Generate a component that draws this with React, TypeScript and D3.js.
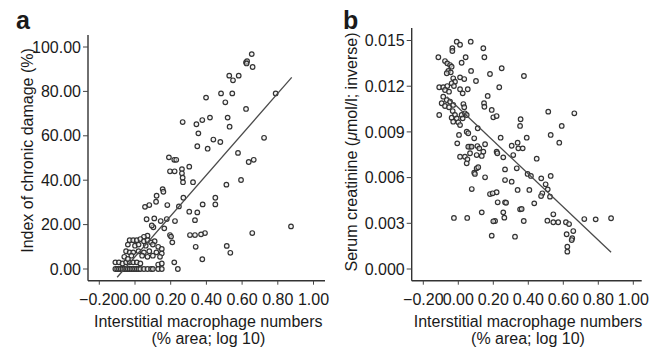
import React from "react";
import * as d3 from "d3";

// ---------- DATA ----------
const xTicks = [-0.2, 0.0, 0.2, 0.4, 0.6, 0.8, 1.0];
const damageTicks = [0, 20, 40, 60, 80, 100];
const creatinineTicks = [0.0, 0.003, 0.006, 0.009, 0.012, 0.015];

// Panel a: [macrophage log10 %area, index of chronic damage %]
const damagePoints: [number, number][] = [
  [0.654, 96.8], [0.622, 93.1], [0.628, 93.6], [0.625, 92.6], [0.659, 91], [0.528, 87.1], [0.549, 85],
  [0.581, 87.1], [0.482, 79.1], [0.545, 79.1], [0.398, 77.2], [0.506, 75.1], [0.622, 72.1],
  [0.788, 79.1], [0.267, 66.2], [0.344, 65.2], [0.377, 67.1], [0.42, 68.2], [0.519, 68.2],
  [0.53, 64.1], [0.355, 61.1], [0.439, 58.3], [0.478, 57.2], [0.349, 55.3], [0.407, 54.2],
  [0.723, 59.1], [0.577, 52.3], [0.19, 50.3], [0.22, 49.2], [0.231, 49.2], [0.196, 44],
  [0.222, 44], [0.263, 45], [0.263, 43.1], [0.267, 41.1], [0.269, 39.1], [0.304, 46.1],
  [0.325, 39.1], [0.637, 48.2], [0.665, 49.2], [0.512, 38], [0.594, 40.1], [0.155, 36],
  [0.159, 34.8], [0.121, 33], [0.271, 32.1], [0.45, 32.1], [0.45, 29.1], [0.379, 29.1],
  [0.392, 16.2], [0.657, 16.2], [0.874, 19.2], [0.514, 10.4], [0.534, 7.3], [0.377, 4.4],
  [0.056, 28], [0.08, 28.8], [0.118, 30.3], [0.181, 28.8], [0.304, 25.8], [0.349, 25.5],
  [0.336, 22], [0.065, 22.4], [0.108, 22.8], [0.144, 21.6], [0.178, 22.5], [0.224, 21.6],
  [0.103, 18.8], [0.094, 19.6], [0.164, 18.3], [0.196, 15.3], [0.202, 14.6], [0.209, 12],
  [0.308, 15.3], [0.336, 15.3], [0.37, 15.6], [0.34, 10], [0.246, 28.2], [0.07, 15], [0.05, 14.5],
  [-0.03, 13], [-0.01, 13], [0.01, 13], [0.03, 13.5], [0.05, 12.5], [0.07, 13], [0.09, 12], [0.11, 12.5],
  [-0.04, 11], [0.0, 10.5], [0.02, 11], [0.06, 10.5], [0.1, 11], [0.13, 10], [0.15, 9],
  [-0.05, 8], [-0.03, 7.5], [-0.01, 7.5], [0.02, 8], [0.05, 7.5], [0.08, 8], [0.12, 7.5], [0.15, 7],
  [-0.06, 5.5], [-0.02, 6], [0.04, 6], [0.07, 5.5], [0.1, 6], [0.14, 5.5],
  [-0.11, 3], [-0.09, 3], [-0.07, 2.5], [-0.05, 3], [-0.03, 3], [-0.01, 3], [0.01, 3], [0.03, 2.5],
  [0.13, 2], [0.15, 2.5], [0.22, 3], [-0.04, 4.5],
  [-0.11, 0], [-0.1, 0], [-0.09, 0], [-0.08, 0], [-0.07, 0], [-0.06, 0], [-0.05, 0], [-0.04, 0],
  [-0.03, 0], [-0.02, 0], [-0.01, 0], [0.0, 0], [0.01, 0], [0.02, 0], [0.03, 0], [0.05, 0],
  [0.07, 0], [0.09, 0], [0.1, 0], [0.13, 0], [0.15, 0], [0.24, 0],
];

// Panel b: [macrophage log10 %area, serum creatinine inverse]
const creatininePoints: [number, number][] = [
  [-0.114, 0.0139], [-0.109, 0.01011], [-0.009, 0.01492], [-0.034, 0.01449], [-0.034, 0.01431],
  [0.01, 0.01472], [0.071, 0.01492], [0.143, 0.01449], [0.149, 0.0139], [0.042, 0.0139],
  [0.019, 0.01354], [-0.076, 0.01365], [-0.063, 0.0135], [-0.047, 0.01339], [-0.038, 0.01328],
  [-0.057, 0.013], [-0.043, 0.01291], [-0.066, 0.01285], [0.073, 0.013], [0.181, 0.0128],
  [0.248, 0.01318], [0.375, 0.01267], [-0.029, 0.01252], [-0.019, 0.0123], [-0.038, 0.01219],
  [-0.025, 0.01201], [0.01, 0.01258], [0.034, 0.01247], [0.101, 0.01234], [-0.109, 0.01193],
  [-0.086, 0.01193], [-0.063, 0.01201], [-0.076, 0.01175], [-0.053, 0.01164], [0.01, 0.0118],
  [0.025, 0.01153], [0.054, 0.0118], [0.234, 0.01193], [0.168, 0.01136], [-0.086, 0.01131],
  [-0.066, 0.01109], [-0.047, 0.01098], [-0.095, 0.01088], [-0.076, 0.0107], [-0.053, 0.01062],
  [-0.029, 0.01077], [0.029, 0.01083], [0.034, 0.01062], [0.147, 0.01088], [0.149, 0.01065],
  [0.191, 0.01044], [0.2, 0.00996], [0.219, 0.01004], [-0.032, 0.01037], [-0.019, 0.01011],
  [-0.038, 0.00993], [-0.009, 0.00989], [0.019, 0.01011], [0.038, 0.01022], [0.048, 0.01011],
  [0.025, 0.00989], [-0.029, 0.00967], [0.0, 0.00963], [0.01, 0.00945], [0.356, 0.00983],
  [0.353, 0.00939], [0.514, 0.01033], [0.663, 0.01022], [0.591, 0.00939], [0.528, 0.0088],
  [0.577, 0.00829], [0.048, 0.00901], [0.057, 0.00891], [0.004, 0.0088], [0.091, 0.00858],
  [0.242, 0.00862], [-0.006, 0.00825], [0.067, 0.00803], [0.109, 0.00807], [0.153, 0.00819],
  [0.12, 0.00792], [0.143, 0.0077], [0.305, 0.00809], [0.343, 0.00792], [0.368, 0.00792],
  [0.391, 0.00862], [0.339, 0.00829], [0.219, 0.0077], [0.223, 0.0076], [0.01, 0.00737],
  [0.038, 0.00737], [0.067, 0.0076], [0.052, 0.0072], [0.105, 0.00748], [0.134, 0.00742],
  [0.257, 0.00733], [0.314, 0.00748], [0.448, 0.00724], [0.048, 0.00694], [0.105, 0.00661],
  [0.111, 0.00924], [0.057, 0.00803], [0.076, 0.00803], [0.114, 0.00668], [0.091, 0.00632],
  [0.267, 0.00654], [0.334, 0.00661], [0.396, 0.00624], [0.415, 0.00611], [0.474, 0.00595],
  [0.528, 0.00611], [0.267, 0.00584], [0.305, 0.00573], [0.499, 0.00556], [0.511, 0.00523],
  [0.524, 0.00475], [0.48, 0.00497], [0.473, 0.00479], [0.339, 0.00519], [0.406, 0.00519],
  [0.219, 0.00504], [0.225, 0.00438], [0.267, 0.00438], [0.273, 0.00435], [0.434, 0.00431],
  [0.353, 0.00392], [0.257, 0.00372], [0.263, 0.00337], [0.21, 0.00315], [0.374, 0.00315],
  [0.543, 0.00359], [0.509, 0.00317], [0.543, 0.00307], [0.571, 0.00307], [0.615, 0.00307],
  [0.633, 0.00295], [0.72, 0.00328], [0.785, 0.00326], [0.873, 0.00333], [0.657, 0.00249],
  [0.619, 0.00228], [0.651, 0.00202], [0.648, 0.0019], [0.623, 0.00146], [0.623, 0.00114],
  [0.324, 0.00212], [-0.025, 0.00335], [0.051, 0.00335], [0.134, 0.00372], [0.077, 0.00525],
  [0.153, 0.00602], [0.095, 0.00624], [0.181, 0.00492], [0.196, 0.00497], [0.2, 0.00313],
  [0.191, 0.00219], [0.362, 0.00394],
];

// Fit lines: [x0, y0, x1, y1]
const damageFit = [-0.1, -3.7, 0.878, 86.3];
const creatinineFit = [-0.066, 0.01131, 0.873, 0.0011];

// ---------- DRAWING ----------
const FONT = "Arial, 'Liberation Sans', Helvetica, sans-serif";
const TXT = "#1a1a1a";

type PanelProps = {
  letter: string;
  letterPos: [number, number];
  left: number; right: number; top: number; bottom: number;
  xDomain: [number, number];
  yDomain: [number, number];
  yTicks: number[];
  yFmt: (v: number) => string;
  points: [number, number][];
  fit: number[];
  yLabel: React.ReactNode;
  yLabelX: number;
  yLabelY: number;
  titleX: number;
};

function Panel(p: PanelProps) {
  const x = d3.scaleLinear().domain(p.xDomain).range([p.left, p.right]);
  const y = d3.scaleLinear().domain(p.yDomain).range([p.bottom, p.top]);
  const line = d3.line<[number, number]>().x(d => x(d[0])).y(d => y(d[1]));
  const fitPts: [number, number][] = [[p.fit[0], p.fit[1]], [p.fit[2], p.fit[3]]];
  const xFmt = (v: number) => (v < 0 ? "\u2212" : "") + d3.format(".2f")(Math.abs(v));
  return (
    <g fontFamily={FONT} fill={TXT}>
      <text x={p.letterPos[0]} y={p.letterPos[1]} fontSize={25} fontWeight="bold">{p.letter}</text>
      {/* axes */}
      <line x1={p.left} x2={p.left} y1={p.top} y2={p.bottom} stroke="#333" strokeWidth={1.4} />
      <line x1={p.left} x2={p.right} y1={p.bottom} y2={p.bottom} stroke="#333" strokeWidth={1.4} />
      {p.yTicks.map(t => (
        <g key={"y" + t}>
          <line x1={p.left - 5} x2={p.left} y1={y(t)} y2={y(t)} stroke="#444" strokeWidth={1} />
          <text x={p.left - 7} y={y(t)} dy="0.35em" textAnchor="end" fontSize={16}>{p.yFmt(t)}</text>
        </g>
      ))}
      {xTicks.map(t => (
        <g key={"x" + t}>
          <line x1={x(t)} x2={x(t)} y1={p.bottom} y2={p.bottom + 4} stroke="#444" strokeWidth={1} />
          <text x={x(t)} y={305} textAnchor="middle" fontSize={16}>{xFmt(t)}</text>
        </g>
      ))}
      <text x={p.titleX} y={326.5} textAnchor="middle" fontSize={16}>Interstitial macrophage numbers</text>
      <text x={p.titleX} y={344} textAnchor="middle" fontSize={16}>(% area; log 10)</text>
      <text transform={`translate(${p.yLabelX},${p.yLabelY}) rotate(-90)`} textAnchor="middle" fontSize={16}>{p.yLabel}</text>
      {/* points */}
      {p.points.map((d, i) => (
        <circle key={i} cx={x(d[0])} cy={y(d[1])} r={2.3} fill="#eeeeee" fillOpacity={0.6} stroke="#333" strokeWidth={1.2} />
      ))}
      <path d={line(fitPts) || ""} stroke="#4a4a4a" strokeWidth={1.3} fill="none" />
    </g>
  );
}

export default function App() {
  return (
    <svg width={661} height={348} style={{ position: "absolute", left: 0, top: 0, background: "#fff" }}>
      <rect width={661} height={348} fill="#fff" />
      <Panel
        letter="a" letterPos={[16, 28.5]}
        left={88} right={325} top={35} bottom={280.7}
        xDomain={[(88 - 135) / 178.5, (325 - 135) / 178.5]}
        yDomain={[(269 - 280.7) / 2.22, (269 - 35) / 2.22]}
        yTicks={damageTicks}
        yFmt={v => d3.format(".2f")(v)}
        points={damagePoints}
        fit={damageFit}
        yLabel="Index of chronic damage (%)"
        yLabelX={33}
        yLabelY={150.5}
        titleX={208.3}
      />
      <Panel
        letter="b" letterPos={[343, 28.5]}
        left={411.7} right={641.7} top={28} bottom={280.7}
        xDomain={[(411.7 - 458.3) / 175, (641.7 - 458.3) / 175]}
        yDomain={[(269 - 280.7) / 15233, (269 - 28) / 15233]}
        yTicks={creatinineTicks}
        yFmt={v => d3.format(".3f")(v)}
        points={creatininePoints}
        fit={creatinineFit}
        yLabel={<>Serum creatinine (<tspan fontStyle="italic">μ</tspan>mol/l; inverse)</>}
        yLabelX={357}
        yLabelY={152}
        titleX={528}
      />
    </svg>
  );
}
